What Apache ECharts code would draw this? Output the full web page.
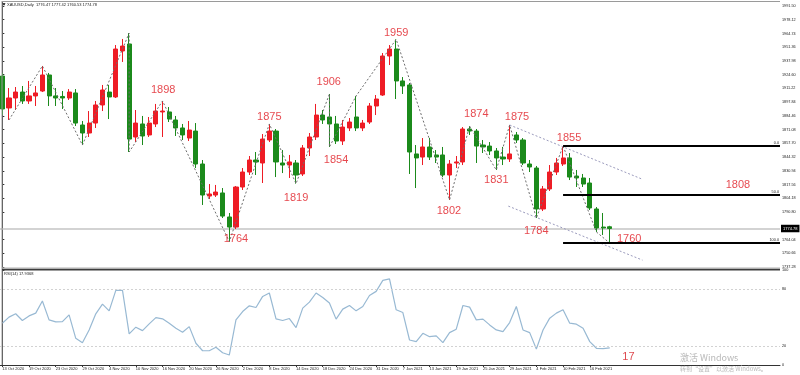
<!DOCTYPE html>
<html><head><meta charset="utf-8">
<script src="https://cdn.jsdelivr.net/npm/echarts@6/dist/echarts.min.js"></script>
<style>html,body{margin:0;padding:0;background:#fff}#c{width:800px;height:375px}</style>
</head><body><div id="c"></div>
<script>
// ---- data ----
const opens=[1923.3,1892.2,1901.9,1907.7,1899.0,1903.9,1908.7,1924.3,1903.9,1903.4,
1901.9,1906.8,1875.6,1867.8,1877.5,1895.1,1907.7,1902.9,1947.7,1954.5,
1863.9,1876.6,1865.9,1876.6,1888.3,1888.3,1880.5,1872.7,1862.9,1869.7,
1837.6,1806.4,1807.4,1809.4,1786.0,1776.2,1815.2,1829.8,1841.5,1838.6,
1861.0,1869.7,1838.6,1836.6,1838.6,1827.9,1853.2,1863.9,1885.3,1883.4,
1876.6,1860.0,1872.7,1883.4,1872.7,1878.5,1894.1,1904.8,1942.8,1949.6,
1918.5,1914.6,1847.4,1844.4,1854.2,1846.4,1846.4,1826.9,1838.6,1839.6,
1871.7,1869.7,1856.1,1855.1,1850.3,1844.4,1842.5,1865.9,1861.0,1837.6,
1833.7,1793.8,1813.3,1829.8,1837.6,1843.5,1825.9,1824.0,1819.1,1793.8,
1776.2,1776.47];
const closes=[1891.2,1901.9,1907.7,1899.0,1903.9,1906.8,1924.3,1903.9,1901.9,1901.9,
1907.7,1877.5,1867.8,1877.5,1895.1,1909.7,1902.9,1949.6,1952.5,1861.9,
1877.5,1864.9,1877.5,1889.2,1889.2,1881.4,1872.7,1865.9,1870.7,1837.6,
1807.4,1808.4,1810.3,1786.9,1776.2,1815.2,1829.8,1841.5,1839.6,1861.9,
1869.7,1839.6,1836.6,1839.6,1826.9,1853.2,1863.9,1885.3,1880.5,1876.6,
1860.0,1873.6,1878.5,1872.7,1877.5,1894.1,1900.9,1942.8,1949.6,1918.5,
1913.6,1849.3,1843.5,1854.2,1844.4,1844.4,1826.9,1837.6,1839.6,1871.7,
1869.7,1855.1,1854.2,1850.3,1843.5,1842.5,1847.4,1861.0,1838.6,1834.7,
1793.8,1813.3,1829.8,1838.6,1843.5,1824.9,1824.0,1818.1,1794.8,1775.3,
1775.3,1774.78];
const highs=[1926.3,1911.6,1912.6,1913.6,1918.5,1913.6,1933.1,1926.3,1911.6,1908.7,
1910.6,1910.6,1879.5,1889.2,1899.0,1914.6,1914.6,1953.5,1959.4,1965.2,
1890.2,1884.4,1883.4,1896.1,1899.0,1893.1,1884.4,1876.6,1879.5,1877.5,
1841.5,1818.1,1817.2,1814.2,1789.9,1816.2,1833.7,1845.4,1849.3,1866.8,
1876.6,1871.7,1851.2,1846.4,1841.5,1856.1,1867.8,1896.1,1890.2,1905.8,
1884.4,1880.5,1882.4,1903.9,1880.5,1897.0,1904.8,1945.7,1953.5,1959.0,
1922.3,1916.5,1856.1,1862.9,1862.9,1851.2,1854.2,1841.5,1845.4,1873.6,
1874.5,1871.7,1861.0,1859.0,1853.2,1854.2,1875.6,1868.8,1862.9,1841.5,
1835.7,1816.2,1836.6,1843.5,1855.1,1848.3,1831.8,1827.9,1824.0,1795.7,
1789.9,1777.42];
const lows=[1885.3,1880.5,1890.2,1896.1,1896.1,1894.1,1907.7,1894.1,1894.1,1891.2,
1900.0,1874.6,1856.1,1863.9,1872.7,1889.2,1881.4,1901.9,1937.0,1849.3,
1859.0,1856.1,1863.9,1873.6,1863.9,1878.5,1864.9,1861.0,1860.0,1833.7,
1797.7,1803.5,1805.5,1785.0,1762.0,1774.3,1812.3,1826.9,1826.9,1819.1,
1859.0,1824.9,1828.8,1824.0,1818.5,1825.9,1845.4,1861.0,1876.6,1854.2,
1857.1,1856.1,1869.7,1869.7,1869.7,1876.6,1885.3,1903.9,1934.0,1900.9,
1905.8,1827.9,1814.2,1836.6,1841.5,1838.6,1824.9,1802.6,1833.7,1836.6,
1865.9,1838.6,1848.3,1846.4,1831.8,1836.6,1839.6,1858.1,1836.6,1829.8,
1785.0,1791.8,1811.3,1826.9,1835.7,1822.0,1815.2,1815.2,1792.8,1771.4,
1768.5,1760.53];
const rsi=[44.0,50.4,53.9,46.8,51.7,54.6,67.3,47.5,45.4,45.7,
52.8,28.1,23.5,36.9,53.9,64.1,57.0,78.5,78.6,32.7,
39.8,36.2,43.3,49.9,48.6,44.0,38.7,34.5,40.4,22.9,
15.0,15.0,18.6,12.9,10.5,47.5,56.3,62.3,60.5,72.2,
75.8,48.6,46.8,48.9,39.4,59.9,66.2,75.8,71.1,65.2,
48.3,58.8,62.6,57.0,61.6,73.2,77.5,89.1,90.6,58.1,
55.2,26.3,24.6,33.4,29.8,30.6,23.5,34.1,37.7,62.6,
60.9,47.5,48.3,42.2,36.9,35.1,44.7,61.6,36.9,34.1,
16.8,36.9,49.3,54.6,58.1,44.0,43.0,38.7,24.6,17.6,
17.2,17.94];
const dateLabels=["13 Oct 2020","19 Oct 2020","23 Oct 2020","29 Oct 2020","4 Nov 2020","10 Nov 2020",
"16 Nov 2020","20 Nov 2020","26 Nov 2020","2 Dec 2020","8 Dec 2020","14 Dec 2020","18 Dec 2020",
"24 Dec 2020","31 Dec 2020","7 Jan 2021","13 Jan 2021","19 Jan 2021","25 Jan 2021","29 Jan 2021",
"4 Feb 2021","10 Feb 2021","16 Feb 2021"];
const priceTicks=[1991.50,1978.12,1964.74,1951.36,1937.98,1924.60,1911.22,1897.84,1884.46,1871.08,
1857.70,1844.32,1830.94,1817.56,1804.18,1790.80,1764.04,1750.66,1737.28];
const rsiTicks=[0,20,80,100];
const rsiLevels=[80,20];
const zigzag=[[1,1880.5],[6,1933.1],[12,1856.1],[19,1965.2],[19,1849.3],[24,1899.0],[34,1762.0],
[40,1876.6],[44,1818.5],[49,1905.8],[49,1854.2],[53,1903.9],[59,1959.0],[67,1802.6],[70,1874.5],
[74,1831.8],[76,1875.6],[80,1785.0],[84,1855.1],[89,1771.4],[91,1760.53]];
const channelUpper=[[76,1875.6],[95.8,1823.0]];
const channelLower=[[75.8,1796.6],[95.9,1744.0]];
const fibHigh=1855.1, fibLow=1760.53, fibStartBar=84;
const fibLevels=[0,50,100];
const pivotLabels=[["1898",24.1,1909.7],["1764",35.0,1764.5],["1875",40.0,1883.4],["1819",44.0,1804.5],
["1906",48.9,1917.5],["1854",50.0,1841.5],["1959",59.0,1965.2],["1802",66.9,1791.8],["1874",71.0,1886.3],
["1875",77.1,1883.4],["1831",74.0,1822.0],["1784",80.0,1772.3],["1855",84.9,1863.0],["1808",110.2,1817.2],
["1760",93.9,1764.5]];
const rsiNote=["17",93.8,8.7];
const rsiLast=17.9368;
const N=117; // bar slots on the time axis (incl. empty future space)

// ---- build ----
const cats=Array.from({length:N},(_,i)=>String(i));
const candles=opens.map((o,i)=>[o,closes[i],lows[i],highs[i]]);
const last=opens.length-1;
const fibLines=fibLevels.map(l=>{
  const p=fibHigh-(fibHigh-fibLow)*l/100;
  return [{coord:[fibStartBar,p],label:{formatter:l.toFixed(1)}},{coord:[N-0.5,p]}];
});
const FONT='Liberation Sans, Arial, sans-serif';
const RED='#e01a22';

const chart=echarts.init(document.getElementById('c'));
chart.setOption({
  animation:false,
  backgroundColor:'#ffffff',
  textStyle:{fontFamily:FONT},
  grid:[
    {left:-1,right:20,top:2,height:266,outerBoundsMode:'none'},
    {left:-1,right:20,top:270,height:95,outerBoundsMode:'none'}
  ],
  xAxis:[
    {type:'category',gridIndex:0,data:cats,show:false},
    {type:'category',gridIndex:1,data:cats,
     axisLine:{show:true,lineStyle:{color:'#333',width:1}},
     axisTick:{show:true,alignWithLabel:true,length:2,lineStyle:{color:'#333'},
       interval:(i)=>i%4===0&&i/4<dateLabels.length},
     axisLabel:{interval:0,fontSize:4,color:'#222',margin:2,align:'left',
       formatter:(v,i)=>(i%4===0&&i/4<dateLabels.length)?dateLabels[i/4]:''},
     splitLine:{show:false}},
    {type:'value',gridIndex:0,min:-0.5,max:N-0.5,show:false},
    {type:'value',gridIndex:1,min:-0.5,max:N-0.5,show:false}
  ],
  yAxis:[
    {type:'value',gridIndex:0,position:'right',min:1736.32,max:1995.40,
     splitLine:{show:false},
     axisLine:{show:true,lineStyle:{color:'#333'}},
     axisTick:{show:true,length:2,customValues:priceTicks,lineStyle:{color:'#333'}},
     axisLabel:{customValues:priceTicks,formatter:v=>v.toFixed(2),fontSize:3.8,color:'#222',margin:2}},
    {type:'value',gridIndex:1,position:'right',min:0,max:100,
     splitLine:{show:false},
     axisLine:{show:true,lineStyle:{color:'#333'}},
     axisTick:{show:true,length:2,customValues:rsiTicks,lineStyle:{color:'#333'}},
     axisLabel:{customValues:rsiTicks,fontSize:3.8,color:'#222',margin:2}}
  ],
  series:[
    {type:'candlestick',xAxisIndex:0,yAxisIndex:0,data:candles,barWidth:4.6,z:3,
     itemStyle:{color:'#ee1c25',color0:'#1b8a1b',borderColor:'#ee1c25',borderColor0:'#1b8a1b',borderWidth:1},
     markLine:{silent:true,symbol:['none','none'],z:1,
       lineStyle:{color:'#c4c4c4',width:1.6,type:'solid'},
       label:{show:true,position:'end',distance:1,formatter:closes[last].toFixed(2),
         backgroundColor:'#000',color:'#fff',fontSize:4,padding:[2,2,1.5,2]},
       data:[{yAxis:closes[last]}]}},
    {type:'line',xAxisIndex:2,yAxisIndex:0,data:zigzag,showSymbol:false,z:4,
     lineStyle:{color:'#6e6e6e',width:1,type:[2,2]},
     markLine:{silent:true,symbol:['none','none'],z:5,
       lineStyle:{color:'#000',width:2,type:'solid'},
       label:{show:true,position:'insideEndTop',distance:1,fontSize:3.8,color:'#222'},
       data:fibLines}},
    {type:'line',xAxisIndex:2,yAxisIndex:0,data:channelUpper,showSymbol:false,z:4,
     lineStyle:{color:'#9b9bbd',width:1,type:[2,2]}},
    {type:'line',xAxisIndex:2,yAxisIndex:0,data:channelLower,showSymbol:false,z:4,
     lineStyle:{color:'#9b9bbd',width:1,type:[2,2]}},
    {type:'scatter',xAxisIndex:2,yAxisIndex:0,symbolSize:1,z:10,
     itemStyle:{color:'rgba(0,0,0,0)'},
     label:{show:true,position:'inside',formatter:'{b}',color:RED,fontSize:11,fontFamily:FONT},
     data:pivotLabels.map(d=>({name:d[0],value:[d[1],d[2]]}))},
    {type:'line',xAxisIndex:1,yAxisIndex:1,data:rsi,showSymbol:false,z:3,
     lineStyle:{color:'#98b9d3',width:1.2},
     markLine:{silent:true,symbol:['none','none'],label:{show:false},
       lineStyle:{color:'#d2d2d2',width:1,type:[2,2]},
       data:rsiLevels.map(v=>({yAxis:v}))}},
    {type:'scatter',xAxisIndex:3,yAxisIndex:1,symbolSize:1,z:10,
     itemStyle:{color:'rgba(0,0,0,0)'},
     label:{show:true,position:'inside',formatter:'{b}',color:'#d41a22',fontSize:11,fontFamily:FONT},
     data:[{name:rsiNote[0],value:[rsiNote[1],rsiNote[2]]}]}
  ],
  graphic:[
    {type:'line',shape:{x1:2,y1:1,x2:2,y2:365},style:{stroke:'#9a9a9a',lineWidth:1},z:50},
    {type:'line',shape:{x1:2,y1:1.5,x2:780,y2:1.5},style:{stroke:'#9a9a9a',lineWidth:1},z:50},
    {type:'line',shape:{x1:2,y1:268,x2:780,y2:268},style:{stroke:'#b0b0b0',lineWidth:1},z:50},
    {type:'line',shape:{x1:2,y1:269.6,x2:780,y2:269.6},style:{stroke:'#3c3c3c',lineWidth:1.6},z:50},
    {type:'polygon',shape:{points:[[2.5,3.2],[5.5,3.2],[4,5.8]]},style:{fill:'#000'},z:50},
    {type:'text',left:7,top:2.6,z:50,style:{text:'XAUUSD,Daily  '+opens[last].toFixed(2)+' '+highs[last].toFixed(2)+' '+lows[last].toFixed(2)+' '+closes[last].toFixed(2),fontSize:4,fill:'#222',fontFamily:FONT}},
    {type:'text',left:4,top:272,z:50,style:{text:'RSI(14) '+rsiLast.toFixed(4),fontSize:4,fill:'#222',fontFamily:FONT}},
    {type:'text',left:680,top:353,z:50,style:{text:'激活 Windows',fontSize:9,fill:'#b8b8b8',fontFamily:'Noto Sans CJK SC, sans-serif'}},
    {type:'text',left:680,top:365.5,z:50,style:{text:'转到“设置”以激活 Windows。',fontSize:6,fill:'#b8b8b8',fontFamily:'Noto Sans CJK SC, sans-serif'}}
  ]
});
</script></body></html>
